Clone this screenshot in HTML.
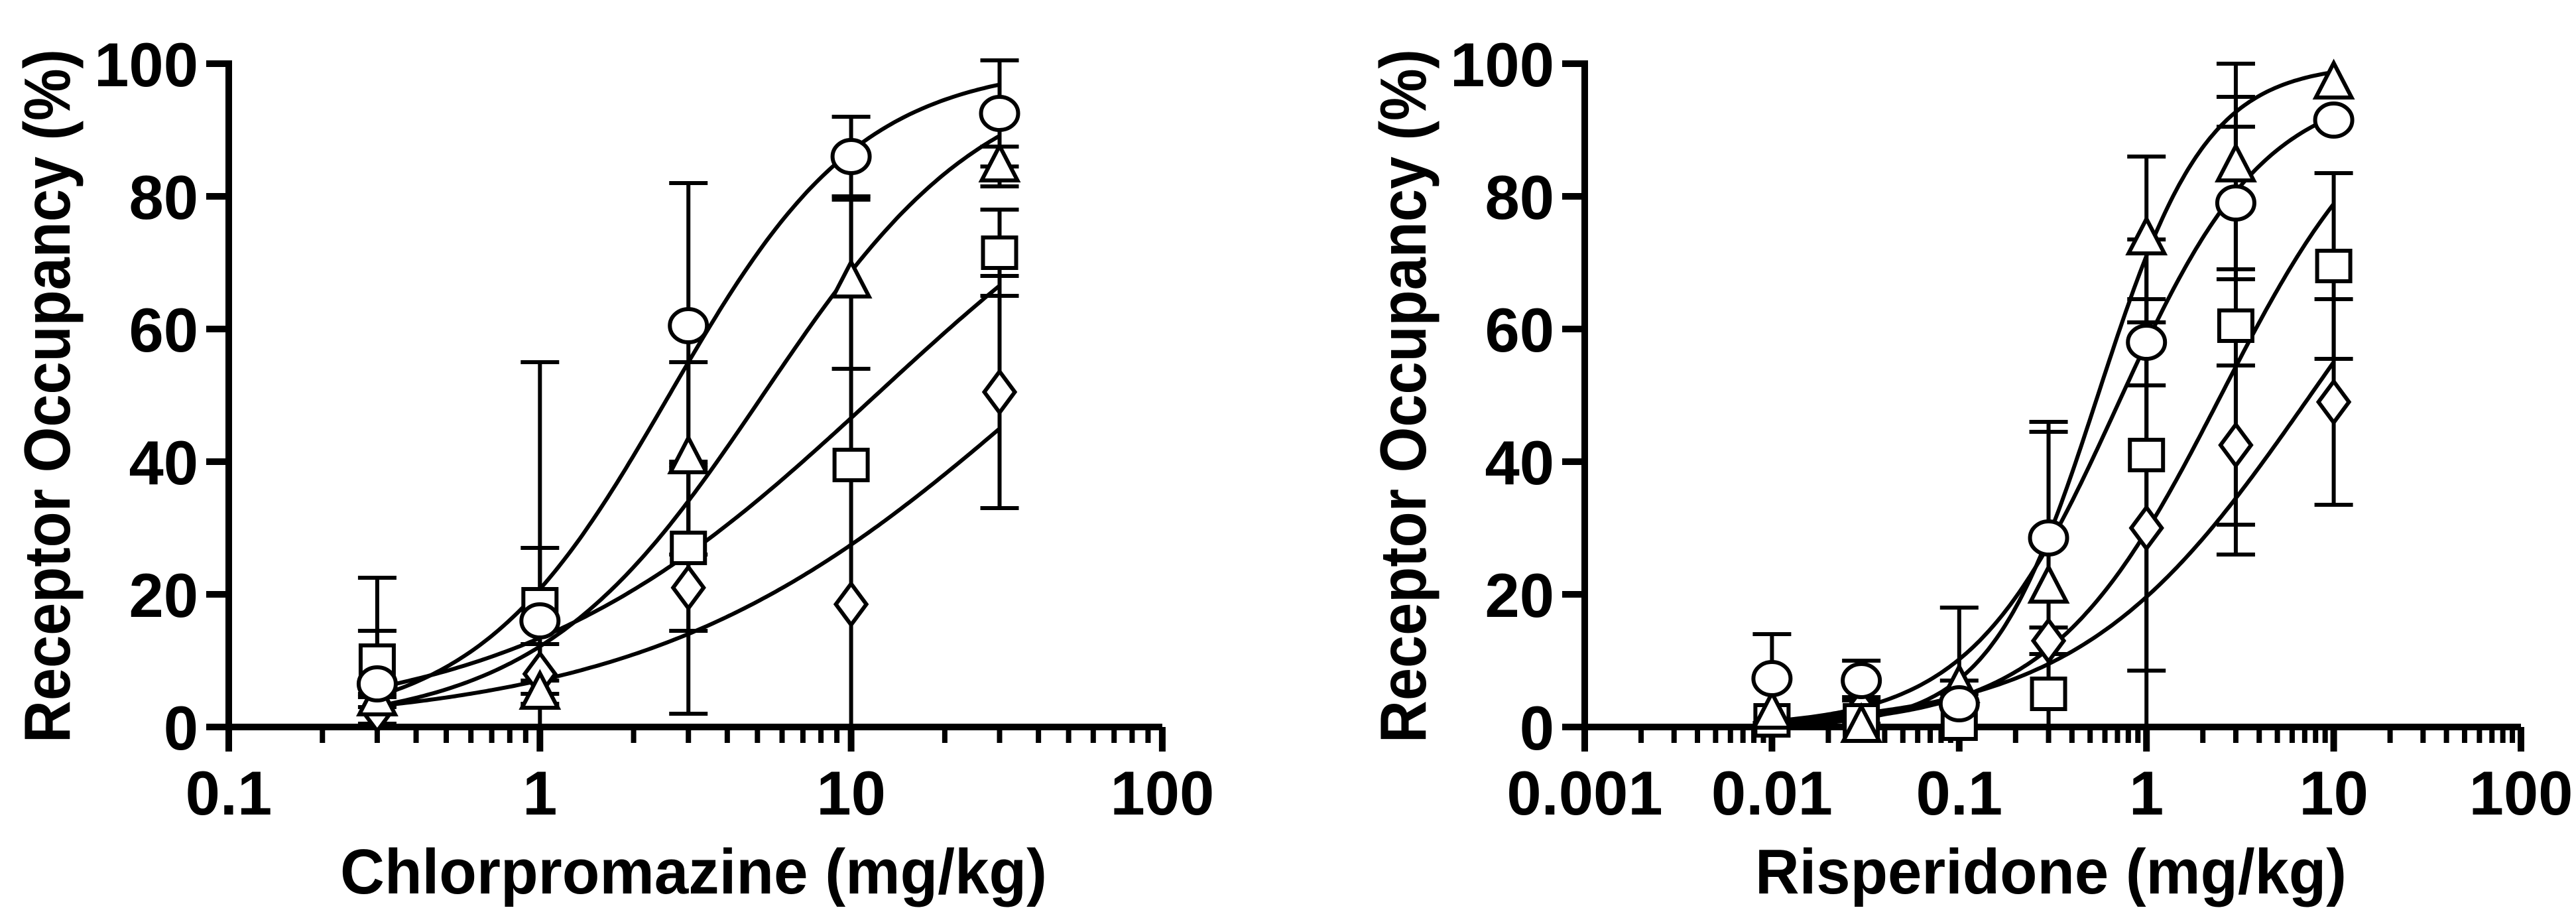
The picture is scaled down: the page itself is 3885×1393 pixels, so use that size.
<!DOCTYPE html>
<html><head><meta charset="utf-8"><style>
html,body{margin:0;padding:0;background:#fff;}
svg{display:block;}
text{font-family:"Liberation Sans",Arial,sans-serif;font-weight:bold;fill:#000;}
</style></head><body>
<svg id="fig" width="3885" height="1393" viewBox="0 0 3885 1393" xmlns="http://www.w3.org/2000/svg"></svg>
<script>
// ---------- Data ----------
const cpzDoses = [0.3, 1, 3, 10, 30];
const cpzCircle = [6.5, 16, 60.5, 86, 92.5];
const cpzCircleErr = [8, 11, 21.5, 6, 8];
const cpzTriangle = [4, 5, 40.5, 67, 84.5];
const cpzTriangleErr = [1, 2, 14.5, 13, 3];
const cpzSquare = [10, 18.5, 27, 39.5, 71.5];
const cpzSquareErr = [12.5, 36.5, 12.5, 40, 6.5];
const cpzDiamond = [2.5, 8, 21, 18.5, 50.5];
const cpzDiamondErr = [2, 4.5, 19, 0, 17.5];
// sigmoid fit params [EC50, hill, top]
const cpzCircleFit = [2.6, 1.4, 100];
const cpzTriangleFit = [5.2, 1.2, 100];
const cpzSquareFit = [12, 0.75, 100];
const cpzDiamondFit = [40, 0.7, 100];

const rspDoses = [0.01, 0.03, 0.1, 0.3, 1, 3, 10];
const rspCircle = [7.3, 7, 3.5, 28.5, 58, 79, 91.5];
const rspCircleErr = [6.7, 3, 14.5, 17.5, 6.5, 11.5, 0];
const rspTriangle = [2, 0, 6, 21, 73.5, 84.5, 97];
const rspTriangleErr = [0, 0, 1, 23.5, 12.5, 15.5, 0];
const rspSquare = [1, 1, 0.5, 5, 41, 60.5, 69.5];
const rspSquareErr = [0, 0, 0, 10, 32.5, 34.5, 14];
const rspDiamond = [1.5, 2.5, 1, 13, 30, 42.5, 49];
const rspDiamondErr = [0, 2, 0, 2, 31, 12, 15.5];
const rspCircleFit = [0.7, 1.1, 97];
const rspTriangleFit = [0.55, 1.5, 100];
const rspSquareFit = [2.5, 0.95, 100];
const rspDiamondFit = [7.5, 0.7, 100];

const yTicks = [0, 20, 40, 60, 80, 100];
const cpzXTickLabels = ["0.1", "1", "10", "100"];
const rspXTickLabels = ["0.001", "0.01", "0.1", "1", "10", "100"];

// ---------- Drawing ----------
const NS = "http://www.w3.org/2000/svg";
const svg = document.getElementById("fig");
function el(tag, attrs, parent) {
  const e = document.createElementNS(NS, tag);
  for (const k in attrs) e.setAttribute(k, attrs[k]);
  (parent || svg).appendChild(e);
  return e;
}
const Y0 = 1096, Y100 = 96;
function yS(v) { return Y0 - (Math.max(0, v) / 100) * (Y0 - Y100); }

function panel(name, ox, minExp, nDec, decW, tickLabels, title, titleW, titleCx, doses, series) {
  const g = el("g", {});
  
  
  const xS = x => ox + (Math.log10(x) - minExp) * decW;
  const xEnd = ox + nDec * decW;
  const ax = el("g", {stroke: "#000", "stroke-width": 10, fill: "none"}, g);
  
  
  el("line", {x1: ox - 34, y1: Y0, x2: xEnd, y2: Y0}, ax);
  el("line", {x1: ox, y1: Y100 - 5, x2: ox, y2: Y0 + 37}, ax);
  yTicks.forEach(t => {
    const y = yS(t);
    el("line", {x1: ox - 34, y1: y, x2: ox, y2: y}, ax);
    const tx = el("text", {x: ox - 46, y: y + 34, "text-anchor": "end", "font-size": 94}, g);
    tx.textContent = t;
    
    
  });
  for (let d = 0; d <= nDec; d++) {
    const base = Math.pow(10, minExp + d);
    const x = xS(base);
    el("line", {x1: x, y1: Y0, x2: x, y2: Y0 + 37}, ax);
    const tx = el("text", {x: x, y: 1228, "text-anchor": "middle", "font-size": 94}, g);
    tx.textContent = tickLabels[d];
    
    
    if (d < nDec) for (let m = 2; m <= 9; m++) {
      const xm = xS(base * m);
      el("line", {x1: xm, y1: Y0, x2: xm, y2: Y0 + 24, "stroke-width": 8}, ax);
    }
  }
  const xt = el("text", {x: titleCx, y: 1347, "text-anchor": "middle", "font-size": 96, textLength: titleW, lengthAdjust: "spacingAndGlyphs"}, g);
  xt.textContent = title;
  
  
  const yt = el("text", {x: 0, y: 0, "text-anchor": "middle", "font-size": 98, textLength: 1046, lengthAdjust: "spacingAndGlyphs", transform: `translate(${ox - 240},597) rotate(-90)`}, g);
  yt.textContent = "Receptor Occupancy (%)";
  
  

  series.forEach(s => {
    const [ec, h, top] = s.fit;
    const lo = Math.log10(doses[0]), hi = Math.log10(doses[doses.length - 1]);
    let d = "";
    for (let i = 0; i <= 200; i++) {
      const lx = lo + (hi - lo) * i / 200, x = Math.pow(10, lx);
      const v = top / (1 + Math.pow(ec / x, h));
      d += (i ? "L" : "M") + xS(x).toFixed(1) + "," + yS(v).toFixed(1);
    }
    const p = el("path", {d: d, fill: "none", stroke: "#000", "stroke-width": 6}, g);
    
    
  });
  series.forEach(s => {
    s.vals.forEach((v, i) => {
      const e = s.err[i];
      if (!e) return;
      const x = xS(doses[i]);
      const eg = el("g", {stroke: "#000", "stroke-width": 6}, g);
      
      
      const yt = yS(v + e), yb = yS(v - e);
      el("line", {x1: x, y1: yt, x2: x, y2: yb}, eg);
      el("line", {x1: x - 29, y1: yt, x2: x + 29, y2: yt}, eg);
      if (v - e > 0) el("line", {x1: x - 29, y1: yb, x2: x + 29, y2: yb}, eg);
    });
  });
  series.forEach(s => {
    s.vals.forEach((v, i) => {
      const x = xS(doses[i]), y = yS(v);
      let m;
      const st = {fill: "#fff", stroke: "#000", "stroke-width": 6};
      if (s.shape === "circle") m = el("ellipse", Object.assign({cx: x, cy: y, rx: 28, ry: 25}, st), g);
      else if (s.shape === "square") m = el("rect", Object.assign({x: x - 25, y: y - 23, width: 50, height: 46}, st), g);
      else if (s.shape === "triangle") m = el("polygon", Object.assign({points: `${x},${y - 31} ${x + 27},${y + 21} ${x - 27},${y + 21}`}, st), g);
      else m = el("polygon", Object.assign({points: `${x},${y - 31} ${x + 23},${y} ${x},${y + 31} ${x - 23},${y}`}, st), g);
      
      
    });
  });
}

panel("chlorpromazine-panel", 345, -1, 3, 469.3, cpzXTickLabels, "Chlorpromazine (mg/kg)", 1066, 1046, cpzDoses, [
  {name: "diamond", shape: "diamond", vals: cpzDiamond, err: cpzDiamondErr, fit: cpzDiamondFit},
  {name: "square", shape: "square", vals: cpzSquare, err: cpzSquareErr, fit: cpzSquareFit},
  {name: "triangle", shape: "triangle", vals: cpzTriangle, err: cpzTriangleErr, fit: cpzTriangleFit},
  {name: "circle", shape: "circle", vals: cpzCircle, err: cpzCircleErr, fit: cpzCircleFit}
]);
panel("risperidone-panel", 2390, -3, 5, 282.4, rspXTickLabels, "Risperidone (mg/kg)", 892, 3093, rspDoses, [
  {name: "diamond", shape: "diamond", vals: rspDiamond, err: rspDiamondErr, fit: rspDiamondFit},
  {name: "square", shape: "square", vals: rspSquare, err: rspSquareErr, fit: rspSquareFit},
  {name: "triangle", shape: "triangle", vals: rspTriangle, err: rspTriangleErr, fit: rspTriangleFit},
  {name: "circle", shape: "circle", vals: rspCircle, err: rspCircleErr, fit: rspCircleFit}
]);
</script>
</body></html>
